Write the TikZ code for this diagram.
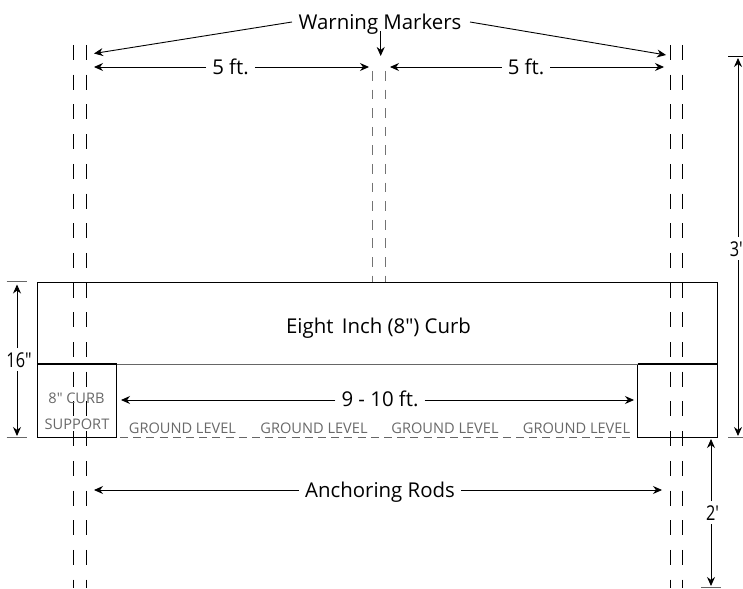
\documentclass[tikz,border=0pt]{standalone}
\usepackage{fontspec}
\setmainfont{Open Sans}
\usetikzlibrary{arrows.meta}
\definecolor{lab}{RGB}{105,105,105}
\tikzset{
 x=1pt,y=-1pt,
 tip/.style={-{Stealth[length=9pt,width=8pt]},line width=0.9pt},
 rod/.style={line width=1pt,dash pattern=on 15pt off 14.7pt},
 crod/.style={line width=1pt,black!55,dash pattern=on 9.7pt off 8.9pt},
 big/.style={font=\fontsize{20.4}{24}\selectfont,anchor=base,inner ysep=2pt,inner xsep=6pt},
 small/.style={font=\fontsize{14.6}{17}\selectfont,text=lab,inner sep=0pt,anchor=base},
 heavy/.style={line width=1.6pt},
 tick/.style={line width=0.9pt,black!60},
 outline/.style={line width=0.9pt},
}
\begin{document}
\begin{tikzpicture}
\useasboundingbox (0,0) rectangle (743,588);
% rods
\foreach \x in {73.5,86,670,682.7}{\draw[rod] (\x,45) -- (\x,588);}
\draw[crod] (372.7,71) -- (372.7,282);
\draw[crod] (385.7,71) -- (385.7,282);
% boxes
\draw[outline] (37.5,282.5) rectangle (717,364);
\draw[outline] (37.5,364) rectangle (116.5,437);
\draw[outline] (637.5,364) rectangle (717,437);
\draw[line width=0.9pt,black!60] (116.5,364) -- (637.5,364);
\draw[heavy] (37.5,364) -- (116.5,364);
\draw[heavy] (637.5,364) -- (717,364);
% ground
\draw[line width=0.8pt,black!60,dash pattern=on 8pt off 5.2pt] (120,437) -- (633,437);
% labels
\node[big] (warn) at (380,30) {Warning Markers};
\coordinate (wl) at (94,53.5);
\coordinate (wr) at (666,55);
\coordinate (wc) at (380.7,56);
\coordinate (wls) at (292,22);
\coordinate (wrs) at (470,22);
\coordinate (wcs) at (380.7,31);
\draw[tip] (wls) -- (wl);
\draw[tip] (wrs) -- (wr);
\draw[tip] (wcs) -- (wc);
\node[big] (f1) at (230.5,74.5) {5 ft.};
\node[big] (f2) at (526,74.5) {5 ft.};
\coordinate (a1) at (94,67); \coordinate (a2) at (369,67);
\coordinate (a3) at (390,67); \coordinate (a4) at (664,67);
\draw[tip] (f1.west |- a1) -- (a1);
\draw[tip] (f1.east |- a2) -- (a2);
\draw[tip] (f2.west |- a3) -- (a3);
\draw[tip] (f2.east |- a4) -- (a4);
\node[big] (curb) at (378.5,333) {Eight\hspace{3pt} Inch (8″) Curb};
\node[big] (w) at (380,406) {9 - 10 ft.};
\coordinate (b1) at (121,400); \coordinate (b2) at (634,400);
\draw[tip] (w.west |- b1) -- (b1);
\draw[tip] (w.east |- b2) -- (b2);
\node[small] (s1) at (76.5,403) {8″ CURB};
\node[small] (s2) at (77,429) {SUPPORT};
\node[small] (g1) at (182.5,433.3) {GROUND LEVEL};
\node[small] (g2) at (314,433.3) {GROUND LEVEL};
\node[small] (g3) at (445,433.3) {GROUND LEVEL};
\node[small] (g4) at (576.5,433.3) {GROUND LEVEL};
\node[big] (ar) at (380,497) {Anchoring Rods};
\coordinate (c1) at (94,490); \coordinate (c2) at (662,490);
\draw[tip] (ar.west |- c1) -- (c1);
\draw[tip] (ar.east |- c2) -- (c2);
% left dim
\draw[tick] (6.5,281.7) -- (26.5,281.7);
\draw[tick] (6.5,437.7) -- (26.5,437.7);
\node[big,inner xsep=0pt,inner ysep=4pt] (h) at (19,367) {\scalebox{0.8}[1]{16″}};
\coordinate (h1) at (17,284.5); \coordinate (h2) at (17,436);
\draw[tip] (h.north -| h1) -- (h1);
\draw[tip] (h.south -| h2) -- (h2);
% right dims
\draw[line width=0.9pt] (728,56.7) -- (743,56.7);
\draw[tick] (728,437.5) -- (743,437.5);
\node[big,anchor=base east,inner xsep=0pt,inner ysep=4pt,fill=white] (t) at (743,256) {\scalebox{0.8}[1]{3′}};
\coordinate (t1) at (738,58); \coordinate (t2) at (738,436);
\draw[tip] (t.north -| t1) -- (t1);
\draw[tip] (t.south -| t2) -- (t2);
\node[big,inner xsep=0pt,inner ysep=4pt] (two) at (712.5,520) {\scalebox{0.8}[1]{2′}};
\coordinate (v1) at (711,439); \coordinate (v2) at (711,586);
\draw[tip] (two.north -| v1) -- (v1);
\draw[tip] (two.south -| v2) -- (v2);
\draw[tick] (701,587.5) -- (721,587.5);
\end{tikzpicture}
\end{document}
